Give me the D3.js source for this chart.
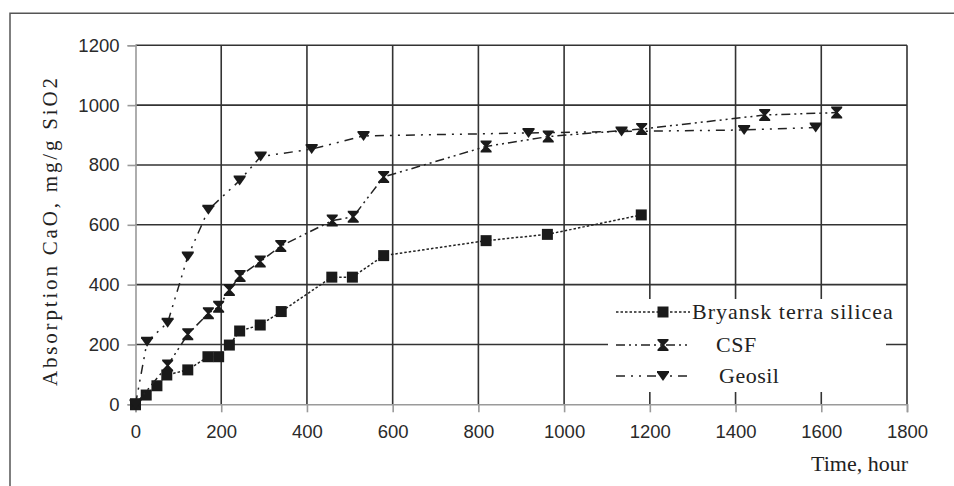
<!DOCTYPE html>
<html>
<head>
<meta charset="utf-8">
<script src="https://cdn.jsdelivr.net/npm/d3@7"></script>
<style>
  body { margin: 0; background: #fff; }
  #chart { width: 954px; height: 486px; }
</style>
</head>
<body>
<div id="chart"></div>
<script>
/** Tick values for both axes */
var xTicks = [0, 200, 400, 600, 800, 1000, 1200, 1400, 1600, 1800];
var yTicks = [0, 200, 400, 600, 800, 1000, 1200];

/** Bryansk terra silicea */
var timeBryansk = [0, 25, 50, 73, 122, 169, 194, 219, 243, 291, 340, 458, 506, 579, 818, 961, 1180];
var absBryansk = [0, 31, 62, 98, 115, 159, 159, 198, 245, 265, 310, 425, 425, 497, 547, 568, 633];

/** CSF */
var timeCSF = [0, 75, 122, 170, 194, 219, 244, 291, 339, 459, 508, 579, 818, 963, 1181, 1468, 1636];
var absCSF = [0, 130, 234, 304, 326, 382, 429, 477, 529, 614, 627, 760, 862, 895, 920, 967, 975];

/** Geosil */
var timeGeosil = [0, 27, 75, 122, 170, 243, 292, 411, 532, 917, 1134, 1420, 1587];
var absGeosil = [0, 209, 273, 494, 650, 748, 828, 853, 897, 907, 912, 917, 925];

var seriesNames = ["Bryansk terra silicea", "CSF", "Geosil"];

var SANS = "'Liberation Sans', Arial, sans-serif";
var SERIF = "'Liberation Serif', 'Times New Roman', serif";

/**
 * @constructor
 * @param {String} HTMLelement id of the div to draw the chart in.
 */
var absorptionChart = function(HTMLelement)
{
  this.parentElement = HTMLelement;
  this.margin = {top: 45.3, right: 47, bottom: 81.7, left: 135.5};
  this.width = 954 - this.margin.left - this.margin.right;
  this.height = 486 - this.margin.top - this.margin.bottom;
  this.x = d3.scaleLinear().domain([0, 1800]).range([0, this.width]);
  this.y = d3.scaleLinear().domain([0, 1200]).range([this.height, 0]);
  this.svg = this.g = undefined;
}

/** Marker shapes, drawn around (0,0) */
var markerPaths = {
  square: "M-5.5,-5.5L5.5,-5.5L5.5,5.5L-5.5,5.5Z",
  hourglass: "M-5.5,-6L5.5,-6L5.5,-4.5L1.2,0L5.5,4.5L5.5,6L-5.5,6L-5.5,4.5L-1.2,0L-5.5,-4.5Z",
  triangle: "M-6,-5L6,-5L6,-3.5L0,5L-6,-3.5Z"
};

absorptionChart.prototype.create = function()
{
  this.svg = d3.select("#" + this.parentElement)
    .append("svg")
    .attr("width", 954)
    .attr("height", 486);

  /** Outer frame, top and left only */
  this.svg.append("path")
    .attr("d", "M10,486V13.3H954")
    .attr("fill", "none")
    .attr("stroke", "#555")
    .attr("stroke-width", 1.5);

  this.g = this.svg.append("g")
    .attr("transform", "translate(" + this.margin.left + "," + this.margin.top + ")");
}

absorptionChart.prototype.drawGrid = function()
{
  var chart = this;
  this.g.selectAll(".hgrid")
    .data(yTicks.filter(function(d) { return d > 0; }))
    .enter().append("line")
      .attr("class", "hgrid")
      .attr("x1", 0)
      .attr("x2", this.width)
      .attr("y1", function(d) { return chart.y(d); })
      .attr("y2", function(d) { return chart.y(d); })
      .attr("stroke", "#333")
      .attr("stroke-width", 1.6);

  this.g.selectAll(".vgrid")
    .data(xTicks.filter(function(d) { return d > 0; }))
    .enter().append("line")
      .attr("class", "vgrid")
      .attr("y1", 0)
      .attr("y2", this.height)
      .attr("x1", function(d) { return chart.x(d); })
      .attr("x2", function(d) { return chart.x(d); })
      .attr("stroke", "#333")
      .attr("stroke-width", 1.6);
}

absorptionChart.prototype.drawAxes = function()
{
  var xAxis = this.g.append("g")
    .attr("transform", "translate(0," + this.height + ")")
    .call(d3.axisBottom(this.x).tickValues(xTicks).tickSize(8).tickPadding(9).tickFormat(d3.format("d")));
  var yAxis = this.g.append("g")
    .call(d3.axisLeft(this.y).tickValues(yTicks).tickSize(8).tickPadding(8).tickFormat(d3.format("d")));

  [xAxis, yAxis].forEach(function(axis)
  {
    axis.attr("font-family", null).attr("font-size", null);
    axis.select(".domain").attr("stroke", "#9a9a9a").attr("stroke-width", 1.6);
    axis.selectAll(".tick line").attr("stroke", "#9a9a9a").attr("stroke-width", 1.6);
    axis.selectAll(".tick text")
      .style("font-family", SANS)
      .style("font-size", "18.5px")
      .attr("fill", "#2a2a2a");
  });
  xAxis.selectAll(".tick text").attr("dy", "0.9em");

  /** Axis titles */
  this.svg.append("text")
    .style("font-family", SERIF)
    .style("font-size", "22px")
    .attr("fill", "#222")
    .attr("text-anchor", "end")
    .attr("x", 908)
    .attr("y", 471)
    .text("Time, hour");

  this.svg.append("text")
    .style("font-family", SERIF)
    .style("font-size", "21px")
    .attr("fill", "#222")
    .attr("text-anchor", "middle")
    .attr("transform", "translate(57,232) rotate(-90)")
    .attr("textLength", 308)
    .attr("lengthAdjust", "spacing")
    .text("Absorption CaO, mg/g SiO2");
}

absorptionChart.prototype.drawSeries = function(times, values, marker, dash)
{
  var chart = this;
  var data = times.map(function(t, i) { return {time: t, value: values[i]}; });
  var line = d3.line()
    .x(function(d) { return chart.x(d.time); })
    .y(function(d) { return chart.y(d.value); });

  this.g.append("path")
    .datum(data)
    .attr("d", line)
    .attr("fill", "none")
    .attr("stroke", "#222")
    .attr("stroke-width", 1.5)
    .attr("stroke-dasharray", dash);

  this.g.selectAll(".m-" + marker)
    .data(data)
    .enter().append("path")
      .attr("class", "m-" + marker)
      .attr("d", markerPaths[marker])
      .attr("transform", function(d) { return "translate(" + chart.x(d.time) + "," + chart.y(d.value) + ")"; })
      .attr("fill", "#1a1a1a");
}

absorptionChart.prototype.drawLegend = function(markers, dashes)
{
  var legend = this.svg.append("g");
  legend.append("rect")
    .attr("x", 608)
    .attr("y", 299)
    .attr("width", 278)
    .attr("height", 93)
    .attr("fill", "#fff");

  var rowY = [312, 345, 376];
  var textX = [692, 716, 719];
  seriesNames.forEach(function(name, i)
  {
    legend.append("line")
      .attr("x1", 616)
      .attr("x2", 690)
      .attr("y1", rowY[i])
      .attr("y2", rowY[i])
      .attr("stroke", "#222")
      .attr("stroke-width", 1.5)
      .attr("stroke-dasharray", dashes[i]);
    legend.append("path")
      .attr("d", markerPaths[markers[i]])
      .attr("transform", "translate(663," + rowY[i] + ")")
      .attr("fill", "#1a1a1a");
    legend.append("text")
      .style("font-family", SERIF)
      .style("font-size", "22px")
      .attr("fill", "#222")
      .attr("x", textX[i])
      .attr("y", rowY[i])
      .attr("dy", "0.33em")
      .attr("letter-spacing", i == 0 ? 1 : 0.5)
      .text(name);
  });
}

var markers = ["square", "hourglass", "triangle"];
var dashes = ["2.5,2", "9,4,2,4,2,4", "9,6,2,6,2,6"];

var chart = new absorptionChart("chart");
chart.create();
chart.drawGrid();
chart.drawAxes();
chart.drawSeries(timeBryansk, absBryansk, markers[0], dashes[0]);
chart.drawSeries(timeCSF, absCSF, markers[1], dashes[1]);
chart.drawSeries(timeGeosil, absGeosil, markers[2], dashes[2]);
chart.drawLegend(markers, dashes);
</script>
</body>
</html>
